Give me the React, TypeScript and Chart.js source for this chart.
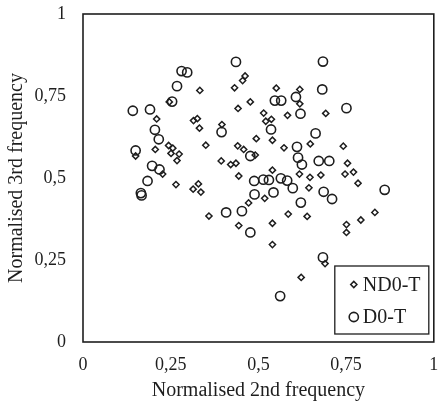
import React, { useEffect, useRef } from 'react';
import { Chart, registerables } from 'chart.js';

Chart.register(...registerables);

const seriesNames = ['ND0-T', 'D0-T'];

const nd0tX = [
  0.333, 0.210, 0.315, 0.326, 0.332, 0.396, 0.350, 0.244, 0.256, 0.251,
  0.274, 0.268, 0.206, 0.150, 0.246, 0.432, 0.462, 0.455, 0.442, 0.477,
  0.494, 0.441, 0.458, 0.394, 0.421, 0.436, 0.444, 0.227, 0.265, 0.314,
  0.329, 0.336, 0.359, 0.444, 0.472, 0.551, 0.618, 0.618, 0.583, 0.692,
  0.515, 0.521, 0.537, 0.540, 0.573, 0.648, 0.742, 0.754, 0.491, 0.540,
  0.617, 0.647, 0.678, 0.747, 0.771, 0.784, 0.644, 0.518, 0.585, 0.639,
  0.540, 0.540, 0.751, 0.751, 0.792, 0.832, 0.690, 0.622,
];
const nd0tY = [
  0.767, 0.680, 0.675, 0.681, 0.652, 0.663, 0.600, 0.599, 0.591, 0.575,
  0.573, 0.553, 0.587, 0.567, 0.732, 0.775, 0.811, 0.797, 0.712, 0.732,
  0.620, 0.598, 0.587, 0.552, 0.541, 0.545, 0.506, 0.512, 0.480, 0.466,
  0.482, 0.457, 0.384, 0.355, 0.424, 0.774, 0.770, 0.726, 0.691, 0.697,
  0.698, 0.673, 0.679, 0.615, 0.592, 0.604, 0.597, 0.545, 0.570, 0.524,
  0.512, 0.502, 0.509, 0.512, 0.518, 0.484, 0.470, 0.438, 0.390, 0.383,
  0.362, 0.297, 0.358, 0.334, 0.372, 0.395, 0.239, 0.197,
];

const d0tX = [
  0.436, 0.281, 0.297, 0.268, 0.254, 0.142, 0.191, 0.205, 0.216, 0.395,
  0.150, 0.197, 0.218, 0.184, 0.165, 0.167, 0.408, 0.453, 0.477, 0.477,
  0.488, 0.489, 0.684, 0.682, 0.751, 0.547, 0.565, 0.607, 0.620, 0.536,
  0.663, 0.610, 0.613, 0.624, 0.672, 0.702, 0.514, 0.530, 0.564, 0.582,
  0.598, 0.543, 0.621, 0.686, 0.710, 0.860, 0.684, 0.562,
];
const d0tY = [
  0.854, 0.826, 0.822, 0.780, 0.733, 0.705, 0.709, 0.647, 0.618, 0.640,
  0.584, 0.537, 0.526, 0.491, 0.454, 0.447, 0.395, 0.399, 0.334, 0.567,
  0.491, 0.450, 0.855, 0.770, 0.713, 0.736, 0.736, 0.747, 0.696, 0.648,
  0.636, 0.595, 0.562, 0.541, 0.552, 0.552, 0.495, 0.494, 0.499, 0.492,
  0.469, 0.456, 0.425, 0.458, 0.436, 0.464, 0.258, 0.140,
];

const tickValues = [0, 0.25, 0.5, 0.75, 1];
const tickLabels = ['0', '0,25', '0,5', '0,75', '1'];
const xTitle = 'Normalised 2nd frequency';
const yTitle = 'Normalised 3rd frequency';

const FONT = "'Liberation Serif', 'Times New Roman', serif";
const INK = '#1e1e1e';

function labelFor(v: number): string {
  const i = tickValues.findIndex((t) => Math.abs(t - v) < 1e-9);
  return i >= 0 ? tickLabels[i] : '';
}

function toPoints(xs: number[], ys: number[]) {
  return xs.map((x, i) => ({ x, y: ys[i] }));
}

function drawMarker(ctx: CanvasRenderingContext2D, style: string, x: number, y: number, r: number) {
  ctx.beginPath();
  if (style === 'rectRot') {
    ctx.moveTo(x - r, y);
    ctx.lineTo(x, y - r);
    ctx.lineTo(x + r, y);
    ctx.lineTo(x, y + r);
    ctx.closePath();
  } else {
    ctx.arc(x, y, r, 0, Math.PI * 2);
  }
  ctx.stroke();
}

const frameLegendPlugin = {
  id: 'frameLegend',
  afterDatasetsDraw(chart: any) {
    const { ctx, chartArea: a } = chart;
    ctx.save();
    ctx.strokeStyle = INK;
    ctx.lineWidth = 1.6;
    ctx.strokeRect(a.left, a.top, a.right - a.left, a.bottom - a.top);

    const bx = a.right - 99;
    const by = a.bottom - 76;
    const bw = 94;
    const bh = 68;
    ctx.fillStyle = '#ffffff';
    ctx.fillRect(bx, by, bw, bh);
    ctx.lineWidth = 1.3;
    ctx.strokeRect(bx, by, bw, bh);

    const dss = chart.data.datasets;
    const rows = [by + 18.5, by + 51];
    dss.forEach((ds: any, i: number) => {
      const yy = rows[i];
      ctx.strokeStyle = INK;
      ctx.lineWidth = ds.borderWidth;
      drawMarker(ctx, ds.pointStyle, bx + 19, yy, ds.pointRadius);
      ctx.fillStyle = INK;
      ctx.font = `20px ${FONT}`;
      ctx.textBaseline = 'middle';
      ctx.textAlign = 'left';
      ctx.fillText(ds.label, bx + 28, yy + 1);
    });
    ctx.restore();
  },
};

export default function App() {
  const ref = useRef<HTMLCanvasElement | null>(null);

  useEffect(() => {
    if (!ref.current) return;
    const chart = new Chart(ref.current, {
      type: 'scatter',
      data: {
        datasets: [
          {
            label: seriesNames[0],
            data: toPoints(nd0tX, nd0tY),
            pointStyle: 'rectRot',
            pointRadius: 3.1,
            borderWidth: 1.5,
            borderColor: INK,
            backgroundColor: 'rgba(0,0,0,0)',
          },
          {
            label: seriesNames[1],
            data: toPoints(d0tX, d0tY),
            pointStyle: 'circle',
            pointRadius: 4.6,
            borderWidth: 1.6,
            borderColor: INK,
            backgroundColor: 'rgba(0,0,0,0)',
          },
        ],
      },
      options: {
        animation: false,
        responsive: true,
        maintainAspectRatio: false,
        layout: { padding: { left: 0, right: 3, top: 14, bottom: 0 } },
        plugins: {
          legend: { display: false },
          tooltip: { enabled: false },
        },
        scales: {
          x: {
            type: 'linear',
            min: 0,
            max: 1,
            grid: { display: false },
            border: { display: false },
            ticks: {
              stepSize: 0.25,
              padding: 4,
              color: INK,
              font: { family: FONT, size: 18 },
              callback: (v: any) => labelFor(Number(v)),
            },
            title: {
              display: true,
              text: xTitle,
              color: INK,
              font: { family: FONT, size: 20 },
              padding: { top: 0, bottom: 5 },
            },
            afterFit: (s: any) => {
              s.height = 66;
              s.paddingLeft = 0;
              s.paddingRight = 0;
            },
          },
          y: {
            type: 'linear',
            min: 0,
            max: 1,
            grid: { display: false },
            border: { display: false },
            ticks: {
              stepSize: 0.25,
              padding: 9,
              color: INK,
              font: { family: FONT, size: 18 },
              callback: (v: any) => labelFor(Number(v)),
            },
            title: {
              display: true,
              text: yTitle,
              color: INK,
              font: { family: FONT, size: 20 },
              padding: { top: 5, bottom: 0 },
            },
            afterFit: (s: any) => {
              s.width = 83;
              s.paddingTop = 0;
              s.paddingBottom = 0;
            },
          },
        },
      },
      plugins: [frameLegendPlugin],
    });
    return () => chart.destroy();
  }, []);

  return (
    <div style={{ position: 'fixed', left: 0, top: 0, width: 440, height: 408, background: '#fff' }}>
      <canvas ref={ref} />
    </div>
  );
}
